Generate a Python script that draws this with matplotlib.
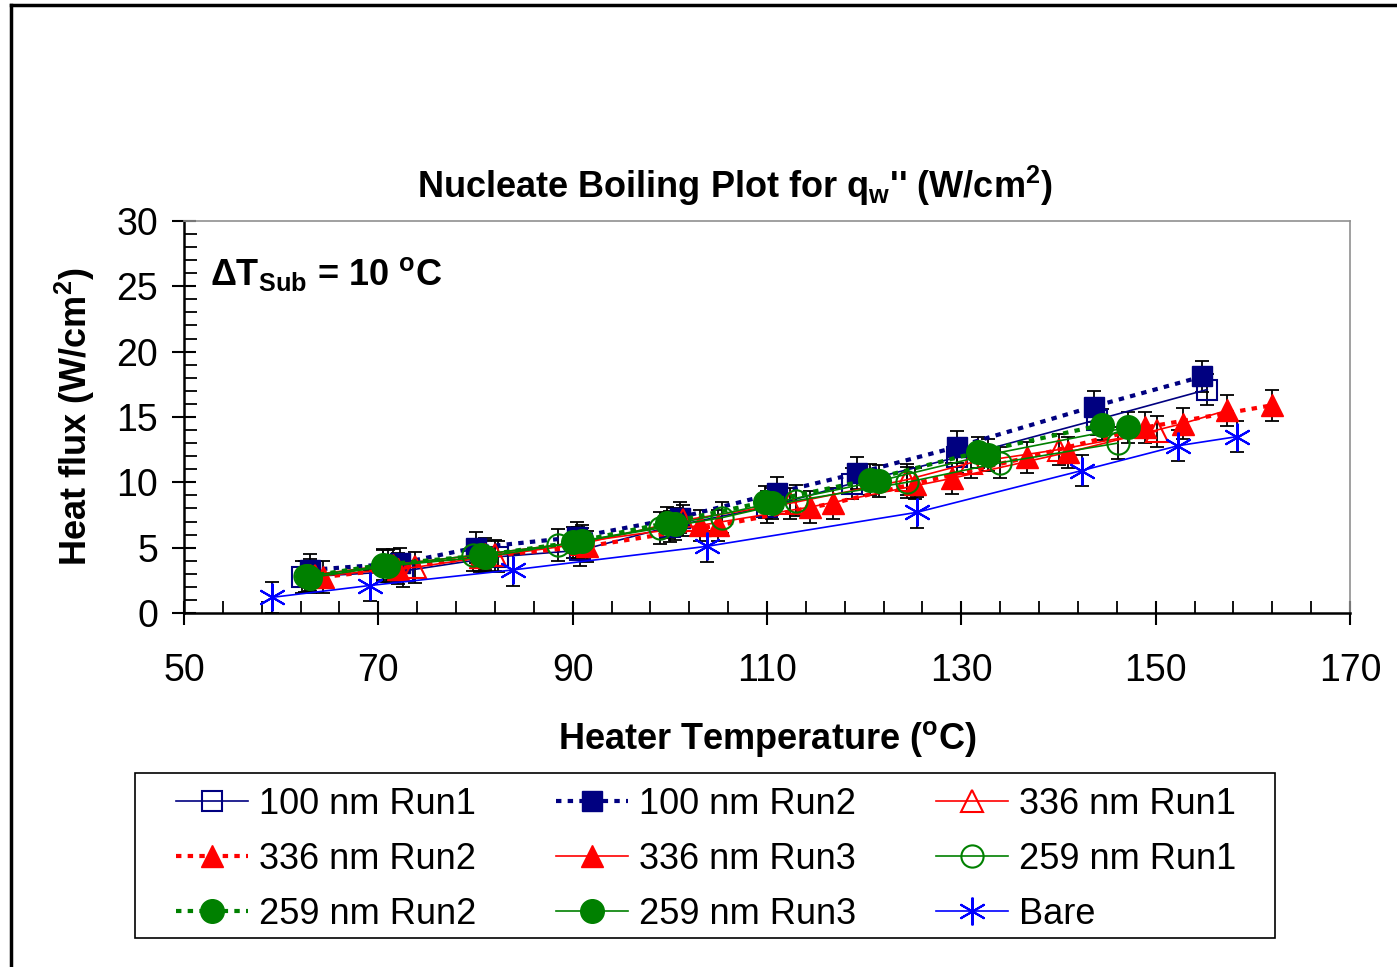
import matplotlib
matplotlib.use('Agg')
import matplotlib.pyplot as plt
import numpy as np
from matplotlib.lines import Line2D
from matplotlib.patches import Rectangle

plt.rcParams['font.family'] = ['Liberation Sans', 'DejaVu Sans']
plt.rcParams['mathtext.fontset'] = 'custom'
plt.rcParams['mathtext.rm'] = 'Liberation Sans'
plt.rcParams['mathtext.bf'] = 'Liberation Sans:bold'
plt.rcParams['mathtext.it'] = 'Liberation Sans:italic'

# data (heater temperature in C, heat flux in W/cm2)
nm100_run1_t = [62.1, 72.5, 82.3, 90.8, 100.0, 110.0, 118.7, 129.5, 144.0, 155.3]
nm100_run1_q = [2.75, 3.2, 4.3, 4.8, 6.6, 8.1, 9.9, 11.9, 14.8, 17.1]
nm100_run2_t = [63.0, 72.2, 80.0, 90.4, 101.0, 111.0, 119.3, 129.5, 143.6, 154.8]
nm100_run2_q = [3.3, 3.8, 5.0, 5.8, 7.3, 9.2, 10.7, 12.7, 15.8, 18.1]
nm336_run1_t = [63.5, 73.8, 82.0, 91.0, 101.4, 112.4, 124.4, 131.0, 140.0, 150.1]
nm336_run1_q = [2.8, 3.5, 4.4, 5.3, 7.1, 8.4, 10.2, 11.5, 12.5, 13.9]
nm336_run2_t = [64.3, 72.0, 80.5, 91.5, 105.0, 116.8, 125.2, 136.8, 148.9, 162.0]
nm336_run2_q = [2.75, 3.4, 4.3, 5.1, 6.7, 8.4, 9.9, 11.9, 14.2, 15.9]
nm336_run3_t = [63.0, 71.5, 81.0, 90.5, 103.1, 114.4, 129.0, 141.0, 152.8, 157.3]
nm336_run3_q = [2.9, 3.7, 4.5, 5.4, 6.7, 8.1, 10.3, 12.3, 14.5, 15.5]
nm259_run1_t = [62.5, 70.5, 79.7, 88.5, 99.0, 105.4, 113.0, 124.4, 134.0, 146.1]
nm259_run1_q = [2.8, 3.6, 4.4, 5.2, 6.5, 7.3, 8.6, 10.0, 11.5, 13.0]
nm259_run2_t = [62.7, 70.5, 80.6, 90.0, 99.7, 109.8, 120.6, 131.7, 144.5]
nm259_run2_q = [2.8, 3.7, 4.4, 5.4, 6.9, 8.5, 10.2, 12.3, 14.4]
nm259_run3_t = [63.0, 71.0, 81.0, 91.0, 100.5, 110.5, 121.5, 132.7, 147.1]
nm259_run3_q = [2.7, 3.6, 4.3, 5.5, 6.8, 8.4, 10.1, 12.1, 14.2]
bare_t = [59.1, 69.1, 83.9, 103.8, 125.4, 142.4, 152.3, 158.4]
bare_q = [1.2, 2.1, 3.3, 5.1, 7.7, 10.9, 12.8, 13.5]
q_err = 1.2

x_ticks = [50, 70, 90, 110, 130, 150, 170]
y_ticks = [0, 5, 10, 15, 20, 25, 30]

navy = '#000080'
red = '#ff0000'
green = '#008000'
blue = '#0000ff'
dots = (0, (1.3, 1.5))

series = [
    ('100 nm Run1', nm100_run1_t, nm100_run1_q, dict(color=navy, ls='-', lw=1.2, marker='s', ms=14, mfc='none', mec=navy, mew=1.5)),
    ('100 nm Run2', nm100_run2_t, nm100_run2_q, dict(color=navy, ls=dots, lw=3, marker='s', ms=14, mfc=navy, mec=navy)),
    ('336 nm Run1', nm336_run1_t, nm336_run1_q, dict(color=red, ls='-', lw=1.2, marker='^', ms=16, mfc='none', mec=red, mew=1.5)),
    ('336 nm Run2', nm336_run2_t, nm336_run2_q, dict(color=red, ls=dots, lw=3, marker='^', ms=16, mfc=red, mec=red)),
    ('336 nm Run3', nm336_run3_t, nm336_run3_q, dict(color=red, ls='-', lw=1.2, marker='^', ms=16, mfc=red, mec=red)),
    ('259 nm Run1', nm259_run1_t, nm259_run1_q, dict(color=green, ls='-', lw=1.2, marker='o', ms=16, mfc='none', mec=green, mew=1.5)),
    ('259 nm Run2', nm259_run2_t, nm259_run2_q, dict(color=green, ls=dots, lw=3, marker='o', ms=17, mfc=green, mec=green)),
    ('259 nm Run3', nm259_run3_t, nm259_run3_q, dict(color=green, ls='-', lw=1.2, marker='o', ms=17, mfc=green, mec=green)),
    ('Bare', bare_t, bare_q, dict(color=blue, ls='-', lw=1.2, marker=(6, 2, 0), ms=20, mfc=blue, mec=blue, mew=1.5)),
]

fig = plt.figure(figsize=(13.97, 9.67), dpi=100)
ax = fig.add_axes([0.1317, 0.3661, 0.8347, 0.4054])

handles = {}
for name, t, q, st in series:
    ax.errorbar(t, q, yerr=q_err, fmt='none', ecolor='black', elinewidth=1.3, capsize=5, capthick=1.3, zorder=2)
    line, = ax.plot(t, q, zorder=3, **st)
    handles[name] = line

ax.set_xlim(50, 170)
ax.set_ylim(0, 30)
ax.set_xticks(x_ticks)
ax.set_xticks(np.arange(50, 171, 4), minor=True)
ax.set_yticks(y_ticks)
ax.set_yticks(np.arange(0, 31, 1), minor=True)
ax.tick_params(which='major', direction='inout', length=17, width=1.5, labelsize=27)
ax.tick_params(axis='y', which='major', pad=10)
ax.tick_params(axis='x', which='major', pad=20)
ax.tick_params(which='minor', direction='in', length=9, width=1.3)
for s in ['left', 'bottom']:
    ax.spines[s].set_linewidth(1.8)
for s in ['top', 'right']:
    ax.spines[s].set_color('#909090')
    ax.spines[s].set_linewidth(1.2)

ax.set_xlabel('Heater Temperature ($\\mathbf{^o}$C)', fontsize=26, fontweight='bold', labelpad=22)
ax.set_ylabel('Heat flux (W/cm$\\mathbf{^2}$)', fontsize=26, fontweight='bold', labelpad=14)
ax.text(0.022, 0.865, '$\\mathbf{\\Delta T_{Sub}}$ = 10 $\\mathbf{^o}$C', transform=ax.transAxes,
        fontsize=26, fontweight='bold', va='center')

fig.text(0.526, 0.808, "Nucleate Boiling Plot for q$\\mathbf{_w}$'' (W/cm$\\mathbf{^2}$)",
         fontsize=26, fontweight='bold', ha='center', va='center')

order = ['100 nm Run1', '336 nm Run2', '259 nm Run2',
         '100 nm Run2', '336 nm Run3', '259 nm Run3',
         '336 nm Run1', '259 nm Run1', 'Bare']
fig.legend([handles[n] for n in order], order, loc='upper left',
           bbox_to_anchor=(176 / 1397, 1 - 787 / 967), ncol=3,
           fontsize=26, frameon=False, handlelength=2.0, handletextpad=0.3,
           borderaxespad=0, borderpad=0, labelspacing=0.55, columnspacing=2.2)

# legend frame
fig.add_artist(Rectangle((135 / 1397, 1 - 938 / 967), 1140 / 1397, 165 / 967, fill=False,
                         edgecolor='black', lw=1.2, transform=fig.transFigure))

# outer frame of the original chart area (left and top edges visible)
fig.add_artist(Line2D([0.0079, 0.0079], [0, 0.9945], color='black', lw=2.5, transform=fig.transFigure))
fig.add_artist(Line2D([0.0079, 1.0], [0.9945, 0.9945], color='black', lw=2.5, transform=fig.transFigure))

fig.savefig('out.png', dpi=100)
